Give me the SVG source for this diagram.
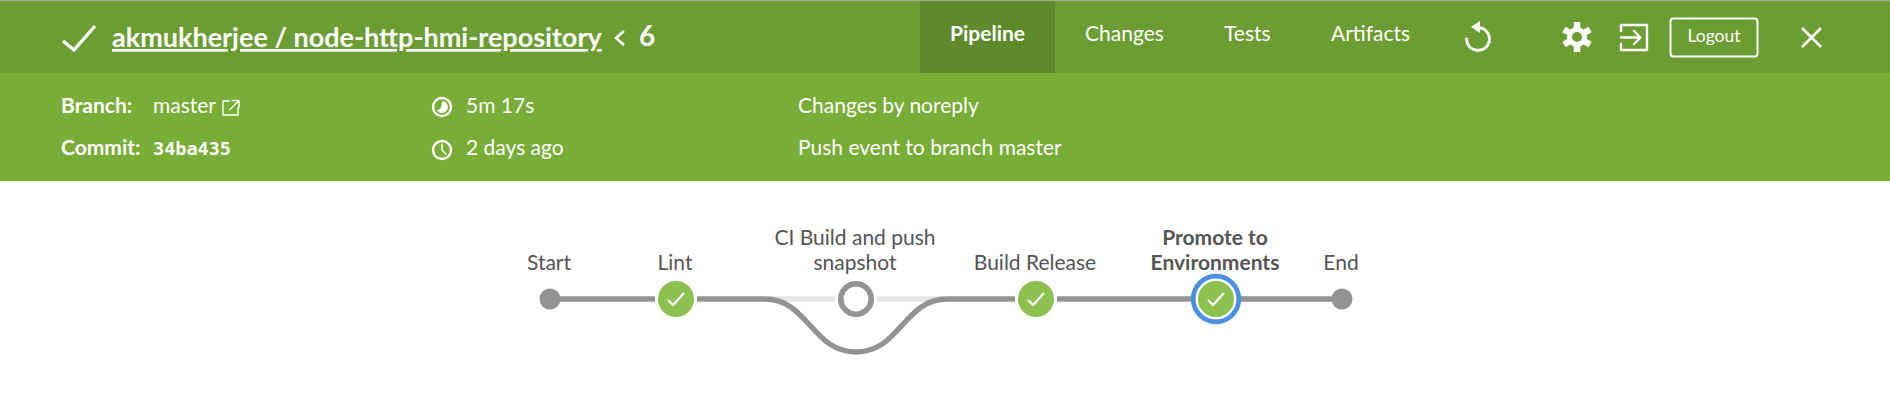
<svg xmlns="http://www.w3.org/2000/svg" width="1890" height="411" viewBox="0 0 1890 411">
<style>
text{font-family:Lato,"Noto Sans","Liberation Sans",sans-serif}
.h{fill:#fff;font-size:21px}
.b{font-weight:700}
.tab{fill:#fff;font-size:21px}
.lbl{fill:#555;font-size:21px;text-anchor:middle}
.ic{fill:none;stroke:#fff;stroke-width:2.4;stroke-linecap:round;stroke-linejoin:round}
.ln{fill:none;stroke:#949393;stroke-width:5.400}
.lt{fill:none;stroke:#e6e6e6;stroke-width:5.400}
.ok{fill:#8cc04f}
.tick{fill:none;stroke:#fff;stroke-width:2.2}
.dot{fill:#949393}
</style>
<rect width="1890" height="411" fill="#fff"/>
<rect width="1890" height="73" fill="#6c9d32"/>
<rect width="1890" height="1.2" fill="#a3ad8c"/>
<rect y="73" width="1890" height="108" fill="#78ae37"/>
<rect x="920" y="1.2" width="135" height="71.8" fill="#5f8a2c"/>

<g id="header">
<polyline points="63,41 74,50 95,26" fill="none" stroke="#fff" stroke-width="3.4"/>
<text x="112" y="47" class="h b" style="font-size:27px;text-decoration:underline">akmukherjee / node-http-hmi-repository</text>
<polyline points="624,31 616,38 624,45" fill="none" stroke="#fff" stroke-width="2.6"/>
<text x="639" y="46" class="h b" style="font-size:28px">6</text>
<text x="950" y="41" class="tab b">Pipeline</text>
<text x="1085" y="41" class="tab">Changes</text>
<text x="1224" y="41" class="tab">Tests</text>
<text x="1331" y="41" class="tab">Artifacts</text>
<g id="icon-rerun"><path class="ic" style="stroke-width:2.800" d="M1478 27.500 A11.500 11.500 0 1 1 1466.500 39"/><path d="M1480 21 L1480 33 L1471 27 Z" fill="#fff"/></g>
<g id="icon-settings"><circle cx="1577" cy="37" r="10" fill="#fff"/><path d="M1577 22v30M1564 29.500l26 15M1564 44.500l26-15" stroke="#fff" stroke-width="6.500"/><circle cx="1577" cy="37" r="5" fill="#6c9d32"/></g>
<g id="icon-exit"><path class="ic" d="M1621 31V25H1647V50H1621V44"/><path class="ic" d="M1621 37.500H1640M1634 31l6.500 6.500-6.500 6.500"/></g>
<rect x="1670.500" y="18.500" width="87" height="38" rx="3" fill="none" stroke="#fff" stroke-width="2"/>
<text x="1714" y="42" class="h" style="font-size:17.500px;text-anchor:middle">Logout</text>
<path d="M1802 28 L1821 47 M1821 28 L1802 47" stroke="#fff" stroke-width="2.600" fill="none"/>
</g>

<g id="run-details">
<text x="61" y="113" class="h b">Branch:</text>
<text x="153" y="113" class="h">master</text>
<path class="ic" style="stroke-width:1.400" d="M229 101H223V115H238V108M232 100.500H239V107.500M239 100.500L230 109.500"/>
<text x="61" y="155" class="h b">Commit:</text>
<text x="153" y="155" class="h b" style="font-family:'DejaVu Sans Mono','Liberation Mono',monospace;font-size:18.500px">34ba435</text>
<circle cx="442" cy="107" r="9" class="ic"/>
<path d="M442 101a6 6 0 1 1-5 9.500q5-1 5-9.500z" fill="#fff"/>
<text x="466" y="113" class="h">5m 17s</text>
<circle cx="442" cy="150" r="9" class="ic"/>
<path class="ic" style="stroke-width:1.500" d="M442 144v6l4 4"/>
<text x="466" y="155" class="h">2 days ago</text>
<text x="798" y="113" class="h">Changes by noreply</text>
<text x="798" y="155" class="h">Push event to branch master</text>
</g>

<g id="connectors">
<path class="lt" d="M770 299H835M877 299H942"/>
<path class="ln" d="M550 299H655M697 299H765C808 299 812 352 856 352C900 352 904 299 947 299H1015M1057 299H1192M1240 299H1342"/>
</g>

<g id="node-start"><circle class="dot" cx="550" cy="299" r="10.500"/><text x="549" y="270" class="lbl">Start</text></g>
<g id="node-lint"><circle class="ok" cx="676" cy="299" r="18"/><polyline class="tick" points="668,300 673,305 684,293"/><text x="675" y="270" class="lbl">Lint</text></g>
<g id="node-ci"><circle cx="856" cy="299" r="15.200" fill="#fff" stroke="#949393" stroke-width="5.600"/><text x="855" y="245" class="lbl">CI Build and push</text><text x="855" y="270" class="lbl">snapshot</text></g>
<g id="node-build"><circle class="ok" cx="1036" cy="299" r="18"/><polyline class="tick" points="1028,300 1033,305 1044,293"/><text x="1035" y="270" class="lbl">Build Release</text></g>
<g id="node-promote"><circle cx="1216" cy="299" r="22.800" fill="#fff" stroke="#4a90e2" stroke-width="4.800"/><circle class="ok" cx="1216" cy="299" r="18"/><polyline class="tick" points="1208,300 1213,305 1224,293"/><text x="1215" y="245" class="lbl b">Promote to</text><text x="1215" y="270" class="lbl b">Environments</text></g>
<g id="node-end"><circle class="dot" cx="1342" cy="299" r="10.500"/><text x="1341" y="270" class="lbl">End</text></g>
</svg>
